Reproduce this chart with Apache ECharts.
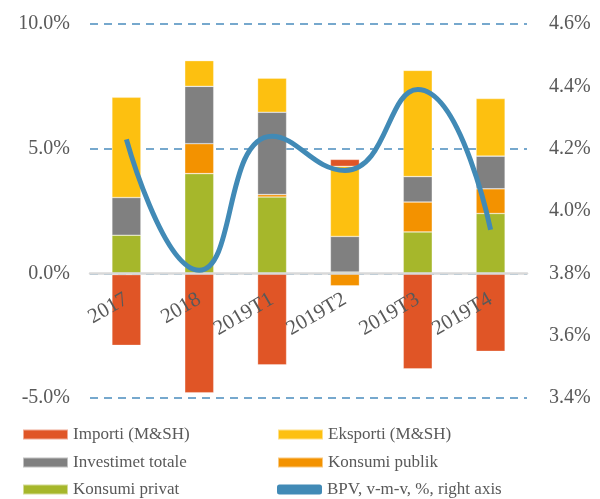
<!DOCTYPE html>
<html>
<head>
<meta charset="utf-8">
<script src="https://cdn.jsdelivr.net/npm/echarts@6/dist/echarts.min.js"></script>
<style>
  html, body { margin: 0; padding: 0; background: #fff; }
  #chart { width: 600px; height: 499px; }
</style>
</head>
<body>
<div id="chart"></div>
<script>
// kategoritë
var categories = ["2017", "2018", "2019T1", "2019T2", "2019T3", "2019T4"];

// kontributet (pikë përqindje), boshti i majtë
var konsumiPrivat = [1.53, 4.0, 3.06, 0.05, 1.66, 2.4];
var konsumiPublik = [-0.05, 1.2, 0.1, -0.5, 1.2, 0.99];
var investimet = [1.51, 2.3, 3.3, 1.43, 1.02, 1.31];
var eksporti = [4.02, 1.03, 1.37, 2.81, 4.26, 2.31];
var importi = [-2.84, -4.79, -3.67, 0.28, -3.83, -3.13];

// BPV v-m-v, boshti i djathtë
var bpv = [4.23, 3.81, 4.24, 4.13, 4.39, 3.94];

var serif = "Liberation Serif";
var grayText = "#595959";
var lineName = "BPV, v-m-v, %, right axis";

var chart = echarts.init(document.getElementById("chart"));

function bar(name, data, color) {
  return {
    name: name,
    type: "bar",
    stack: "gdp",
    barWidth: 29,
    data: data,
    itemStyle: { color: color, borderColor: "rgba(255,255,255,0.5)", borderWidth: 0.6 }
  };
}

// legjenda: 2 kolona x 3 rreshta, nje legjende per element
function legendItem(name, left, top) {
  return {
    left: left,
    top: top,
    padding: 0,
    itemWidth: 45,
    itemHeight: 10,
    icon: name == lineName ? "roundRect" : "rect",
    textStyle: { fontFamily: serif, fontSize: 17, color: grayText, lineHeight: 17 },
    data: [name]
  };
}

var option = {
  animation: false,
  backgroundColor: "#fff",
  grid: { left: 90, right: 73, top: 24, height: 374 },
  legend: [
    legendItem("Importi (M&SH)", 22, 426),
    legendItem("Eksporti (M&SH)", 277, 426),
    legendItem("Investimet totale", 22, 454),
    legendItem("Konsumi publik", 277, 454),
    legendItem("Konsumi privat", 22, 481),
    legendItem(lineName, 277, 481)
  ],
  xAxis: {
    type: "category",
    data: categories,
    offset: -125,
    z: 4,
    axisLine: { onZero: false, lineStyle: { color: "#d9d9d9", width: 2.5 } },
    axisTick: { show: false },
    axisLabel: {
      rotate: 30,
      margin: 25,
      fontFamily: serif,
      fontSize: 21,
      color: grayText
    }
  },
  yAxis: [
    {
      type: "value",
      min: -5,
      max: 10,
      interval: 5,
      axisLine: { show: false },
      axisTick: { show: false },
      axisLabel: {
        margin: 20,
        fontFamily: serif,
        fontSize: 20,
        color: grayText,
        formatter: function (v) { return v.toFixed(1) + "%"; }
      },
      splitLine: { lineStyle: { color: "#4a8cbd", type: [8, 6], width: 1.5 } }
    },
    {
      type: "value",
      min: 3.4,
      max: 4.6,
      interval: 0.2,
      axisLine: { show: false },
      axisTick: { show: false },
      splitLine: { show: false },
      axisLabel: {
        margin: 22,
        fontFamily: serif,
        fontSize: 20,
        color: grayText,
        formatter: function (v) { return v.toFixed(1) + "%"; }
      }
    }
  ],
  series: [
    bar("Konsumi privat", konsumiPrivat, "#a6b72b"),
    bar("Konsumi publik", konsumiPublik, "#f39200"),
    bar("Investimet totale", investimet, "#808080"),
    bar("Eksporti (M&SH)", eksporti, "#fdc010"),
    bar("Importi (M&SH)", importi, "#e05526"),
    {
      name: lineName,
      type: "line",
      yAxisIndex: 1,
      smooth: 0.5,
      symbol: "none",
      z: 5,
      data: bpv,
      itemStyle: { color: "#418ab6" },
      lineStyle: { color: "#418ab6", width: 5 }
    }
  ]
};

chart.setOption(option);
</script>
</body>
</html>
